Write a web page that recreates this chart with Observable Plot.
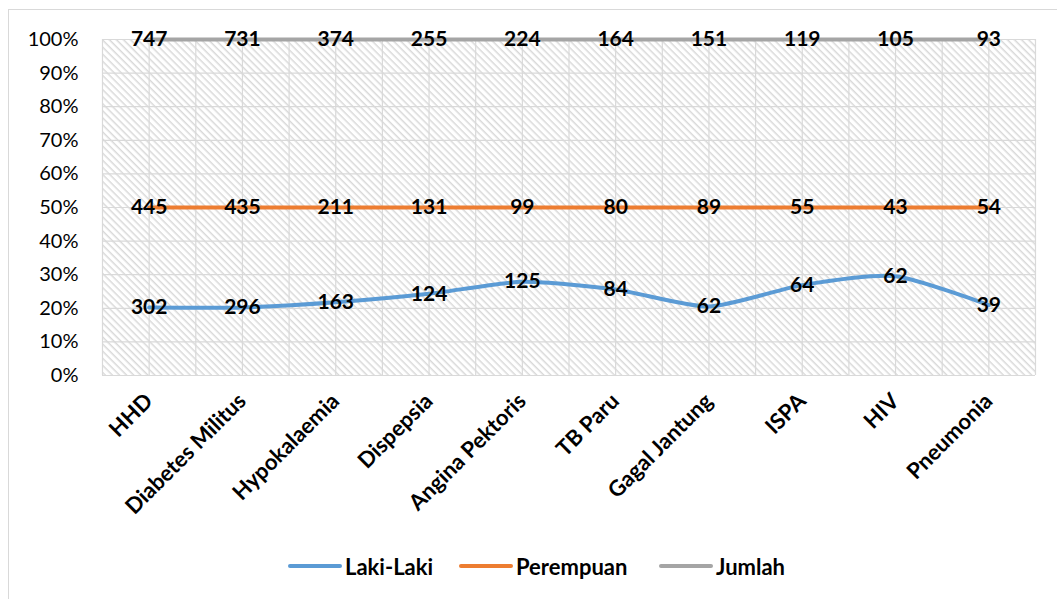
<!DOCTYPE html>
<html>
<head>
<meta charset="utf-8">
<script src="https://cdn.jsdelivr.net/npm/d3@7"></script>
<script src="https://cdn.jsdelivr.net/npm/@observablehq/plot@0.6"></script>
<style>
  html, body { margin: 0; padding: 0; background: #fff; overflow: hidden; }
  body { width: 1057px; height: 599px; position: relative; font-family: Lato, "Open Sans", sans-serif; }
  #frame { position: absolute; left: 8px; top: 9px; width: 1100px; height: 700px; border: 1px solid #d9d9d9; box-sizing: border-box; }
  #chart { position: absolute; left: 0; top: 0; }
  #legend { position: absolute; top: 553px; left: 0; width: 1057px; height: 26px; }
  .item { position: absolute; top: 0; display: flex; align-items: center; font-weight: bold; font-size: 22px; color: #000; height: 26px; }
  .sw { width: 54px; height: 4px; border-radius: 2px; margin-right: 3px; }
</style>
</head>
<body>
<div id="frame"></div>
<div id="chart"></div>
<div id="legend"></div>
<script>
const categories = ["HHD", "Diabetes Militus", "Hypokalaemia", "Dispepsia", "Angina Pektoris", "TB Paru", "Gagal Jantung", "ISPA", "HIV", "Pneumonia"];
const lakiLaki = [302, 296, 163, 124, 125, 84, 62, 64, 62, 39];
const perempuan = [445, 435, 211, 131, 99, 80, 89, 55, 43, 54];
const jumlah = [747, 731, 374, 255, 224, 164, 151, 119, 105, 93];
const seriesNames = ["Laki-Laki", "Perempuan", "Jumlah"];
const seriesColors = ["#5B9BD5", "#ED7D31", "#A5A5A5"];
const yTicks = [0, 0.1, 0.2, 0.3, 0.4, 0.5, 0.6, 0.7, 0.8, 0.9, 1.0];

// 100% stacked line: cumulative share of the three series
const rows = [];
categories.forEach((c, i) => {
  const vals = [lakiLaki[i], perempuan[i], jumlah[i]];
  const total = d3.sum(vals);
  let cum = 0;
  vals.forEach((v, s) => {
    cum += v;
    rows.push({i, category: c, series: seriesNames[s], value: v, share: cum / total});
  });
});

const font = "Lato, 'Open Sans', sans-serif";
const plot = Plot.plot({
  width: 1057,
  height: 540,
  marginTop: 39,
  marginBottom: 165,
  marginLeft: 102,
  marginRight: 22,
  style: {fontFamily: font, background: "transparent", overflow: "visible"},
  x: {type: "linear", domain: [-0.5, categories.length - 0.5], axis: null, label: null},
  y: {domain: [0, 1], axis: null, label: null},
  color: {domain: seriesNames, range: seriesColors},
  marks: [
    Plot.frame({fill: "url(#hatch)", stroke: null}),
    Plot.ruleX(d3.range(-0.5, categories.length, 0.5), {stroke: "#d9d9d9", strokeWidth: 1.2}),
    Plot.ruleY(yTicks, {stroke: "#d9d9d9", strokeWidth: 1.2}),
    Plot.axisY({ticks: yTicks, label: null, tickFormat: d => Math.round(d * 100) + "%", tickSize: 0, tickPadding: 24, fontSize: 20, fill: "#000"}),
    Plot.axisX({ticks: d3.range(categories.length), label: null, tickFormat: i => categories[i], tickRotate: -45, tickSize: 0, tickPadding: 22, fontSize: 22, fontWeight: "bold", fill: "#000"}),
    Plot.line(rows, {x: "i", y: "share", z: "series", stroke: "series", strokeWidth: 4, curve: "cardinal", tension: 0.35}),
    Plot.text(rows, {x: "i", y: "share", text: d => String(d.value), fontSize: 21, fontWeight: "bold", fill: "#000"})
  ]
});

// hatch pattern for plot area
const ns = "http://www.w3.org/2000/svg";
const defs = document.createElementNS(ns, "defs");
defs.innerHTML = `<pattern id="hatch" width="5" height="5" patternUnits="userSpaceOnUse" patternTransform="rotate(45)">
  <rect width="5" height="5" fill="#ffffff"/>
  <rect x="0" y="0" width="5" height="1.5" fill="#d9d9d9"/>
</pattern>`;
plot.insertBefore(defs, plot.firstChild);
document.getElementById("chart").appendChild(plot);

// legend
const legendPos = [288, 459, 659];
const legend = document.getElementById("legend");
seriesNames.forEach((name, s) => {
  const it = document.createElement("div");
  it.className = "item";
  it.style.left = legendPos[s] + "px";
  it.innerHTML = `<span class="sw" style="background:${seriesColors[s]}"></span><span>${name}</span>`;
  legend.appendChild(it);
});
</script>
</body>
</html>
